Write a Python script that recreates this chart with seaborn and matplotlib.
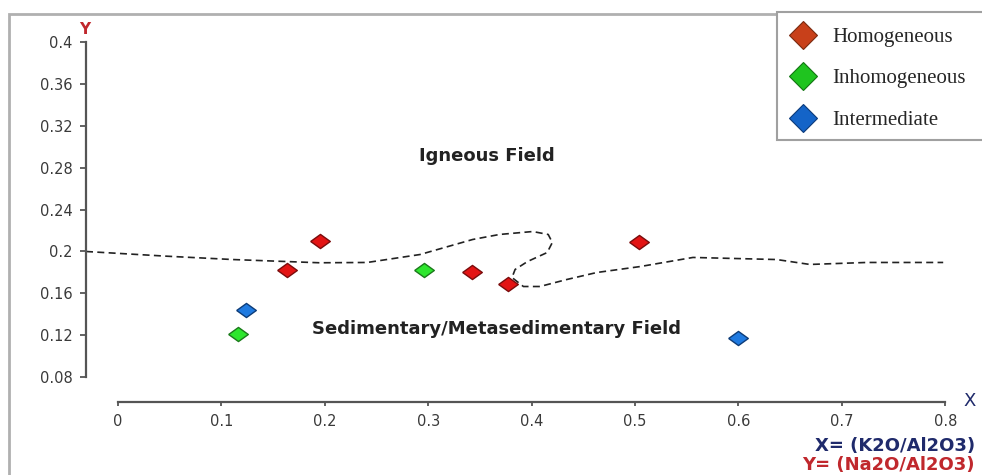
import matplotlib
matplotlib.use("Agg")
import matplotlib.pyplot as plt
from matplotlib.lines import Line2D
from matplotlib.patches import Rectangle
import seaborn as sns
import pandas as pd

# ---- data ----
hom_x = [0.163, 0.195, 0.342, 0.377, 0.504]
hom_y = [0.182, 0.210, 0.180, 0.169, 0.209]
inh_x = [0.116, 0.296]
inh_y = [0.121, 0.182]
int_x = [0.124, 0.600]
int_y = [0.144, 0.117]

# igneous / sedimentary boundary (dashed)
bnd_x = [-0.031, 0.047, 0.111, 0.195, 0.241, 0.292, 0.343, 0.369, 0.401, 0.416,
         0.420, 0.415, 0.396, 0.384, 0.381, 0.392, 0.408, 0.434, 0.463, 0.505,
         0.556, 0.637, 0.669, 0.724, 0.798]
bnd_y = [0.200, 0.1955, 0.1923, 0.1892, 0.1895, 0.1971, 0.2115, 0.2163, 0.2191, 0.2163,
         0.2086, 0.199, 0.1904, 0.1828, 0.1751, 0.1665, 0.1665, 0.1732, 0.1799, 0.1856,
         0.1943, 0.1923, 0.1876, 0.1895, 0.1895]

x_ticks = [0, 0.1, 0.2, 0.3, 0.4, 0.5, 0.6, 0.7, 0.8]
x_labels = ["0", "0.1", "0.2", "0.3", "0.4", "0.5", "0.6", "0.7", "0.8"]
y_ticks = [0.08, 0.12, 0.16, 0.2, 0.24, 0.28, 0.32, 0.36, 0.4]
y_labels = ["0.08", "0.12", "0.16", "0.2", "0.24", "0.28", "0.32", "0.36", "0.4"]

groups = ["Homogeneous", "Inhomogeneous", "Intermediate"]

sns.set_theme(style="white")
plt.rcParams["font.family"] = ["DejaVu Sans"]

W, H = 982, 475
fig = plt.figure(figsize=(W / 100, H / 100), dpi=100)
fig.patch.set_facecolor("white")

ax = fig.add_axes([86 / W, (H - 402) / H, 869.6 / W, 370 / H])
ax.set_facecolor("none")
ax.set_xlim(-0.031, 0.81)
ax.set_ylim(0.056, 0.41)

# boundary line
sns.lineplot(x=bnd_x, y=bnd_y, sort=False, estimator=None, ax=ax,
             color="#222222", lw=1.2, linestyle=(0, (4.2, 2.6)))

# scatter
diamond = [(-1, 0), (0, 0.72), (1, 0), (0, -0.72), (-1, 0)]
styles = {
    "Homogeneous": ("#e31414", "#7a0c0c"),
    "Inhomogeneous": ("#2ee62e", "#1b7a1b"),
    "Intermediate": ("#1f7ae0", "#0d3c78"),
}
data = {"Homogeneous": (hom_x, hom_y), "Inhomogeneous": (inh_x, inh_y),
        "Intermediate": (int_x, int_y)}
for g in groups:
    df = pd.DataFrame({"x": data[g][0], "y": data[g][1]})
    fc, ec = styles[g]
    sns.scatterplot(data=df, x="x", y="y", ax=ax, marker=diamond, s=200,
                    color=fc, edgecolor=ec, linewidth=1.0, zorder=3, legend=False)

ax.set_xlabel("")
ax.set_ylabel("")

# axes styling
for s in ["top", "right"]:
    ax.spines[s].set_visible(False)
ax.spines["left"].set_bounds(0.08, 0.4)
ax.spines["bottom"].set_bounds(0, 0.8)
for s in ["left", "bottom"]:
    ax.spines[s].set_color("#555555")
    ax.spines[s].set_linewidth(1.6)

ax.set_xticks(x_ticks)
ax.set_xticklabels(x_labels)
ax.set_yticks(y_ticks)
ax.set_yticklabels(y_labels)
ax.tick_params(axis="y", which="both", left=True, length=4.5, width=1.3, color="#555555",
               labelsize=10.5, labelcolor="#3a3a3a", pad=5)
ax.tick_params(axis="x", which="both", bottom=True, length=3, width=1.3, color="#555555",
               labelsize=10.5, labelcolor="#3a3a3a", pad=6)

# field labels
ax.text(0.357, 0.291, "Igneous Field", ha="center", va="center",
        fontsize=13, fontweight="bold", color="#222222")
ax.text(0.366, 0.1263, "Sedimentary/Metasedimentary Field", ha="center", va="center",
        fontsize=13, fontweight="bold", color="#222222")

# axis letters and definitions
fig.text(85 / W, 1 - 29 / H, "Y", ha="center", va="center", fontsize=11,
         fontweight="bold", color="#c0282d")
fig.text(970 / W, 1 - 401 / H, "X", ha="center", va="center", fontsize=13,
         color="#1f2a6b")
fig.text(975 / W, 1 - 446 / H, "X= (K2O/Al2O3)", ha="right", va="center",
         fontsize=13, fontweight="bold", color="#1f2a6b")
fig.text(975 / W, 1 - 465 / H, "Y= (Na2O/Al2O3)", ha="right", va="center",
         fontsize=13, fontweight="bold", color="#c0282d")

# outer frame
fig.patches.append(Rectangle((9 / W, -0.1), 1.2, (H - 14) / H + 0.1,
                             transform=fig.transFigure, facecolor="none",
                             edgecolor="#b0b0b0", lw=2, zorder=0.5))
# legend box
fig.patches.append(Rectangle((777 / W, (H - 140) / H), 0.3, 128 / H,
                             transform=fig.transFigure, facecolor="white",
                             edgecolor="#a0a0a0", lw=1.5, zorder=4))

leg_colors = {"Homogeneous": ("#c8401a", "#7a2a10"),
              "Inhomogeneous": ("#1fc41f", "#127512"),
              "Intermediate": ("#1464c8", "#0c3a7a")}
handles = [Line2D([], [], linestyle="none", marker="D", markersize=14,
                  markerfacecolor=leg_colors[g][0], markeredgecolor=leg_colors[g][1],
                  markeredgewidth=0.8) for g in groups]
fig.legend(handles, groups, loc="upper left", bbox_to_anchor=(784 / W, 1 - 19 / H),
           frameon=False, borderaxespad=0, handlelength=1.0, handletextpad=0.9,
           labelspacing=1.05, prop={"family": "Liberation Serif", "size": 15})

fig.savefig("out.png", dpi=100)
